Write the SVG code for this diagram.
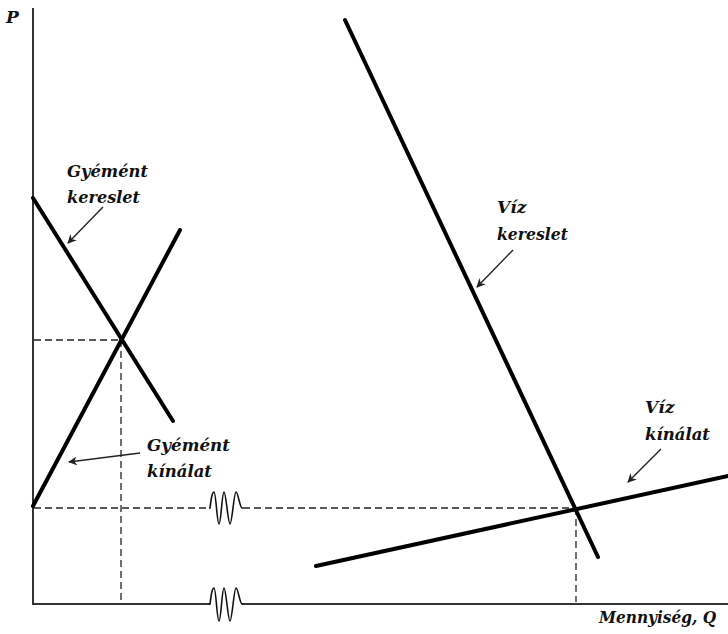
<svg xmlns="http://www.w3.org/2000/svg" width="728" height="634" viewBox="0 0 728 634">
<style>
.axis{stroke:#333;stroke-width:2;fill:none}
.curve{stroke:#000;stroke-width:4;fill:none;stroke-linecap:round}
.dash{stroke:#222;stroke-width:1.3;fill:none;stroke-dasharray:7,4}
.sq{stroke:#111;stroke-width:1.6;fill:none}
.ptr{stroke:#222;stroke-width:1.4;fill:none;marker-end:url(#ah)}
.lbl{font-family:"DejaVu Serif","Liberation Serif",serif;font-style:italic;font-weight:bold;font-size:17px;fill:#111}
</style>
<defs>
<marker id="ah" viewBox="0 0 10 10" refX="9" refY="5" markerWidth="9" markerHeight="9" markerUnits="userSpaceOnUse" orient="auto">
<path d="M0,0 L10,5 L0,10 L3,5 Z" fill="#222"/>
</marker>
</defs>
<rect width="728" height="634" fill="#fff"/>
<g id="axes">
<line class="axis" x1="33" y1="8" x2="33" y2="605"/>
<path class="axis" d="M32,604 H210 M242,604 H728"/>
<path class="sq" d="M209,604 H210 C211,596 212,588 214,588 C216,588 217,621 219,621 C221,621 222,588 224,588 C226,588 228,621 230,621 C232,621 234,588 236,588 C238,588 240,604 242,604 H243"/>
<text class="lbl" x="6" y="23" font-size="18">P</text>
<text class="lbl" x="599" y="623" font-size="16" textLength="117" lengthAdjust="spacingAndGlyphs">Mennyiség, Q</text>
</g>
<g id="connectors">
<line class="dash" x1="34" y1="340" x2="121" y2="340"/>
<line class="dash" x1="121" y1="340" x2="121" y2="602"/>
<path class="dash" d="M34,508 H209 M243,508 H576"/>
<path class="sq" d="M209,508 H210 C211,500 212,492 214,492 C216,492 217,524 219,524 C221,524 222,492 224,492 C226,492 228,524 230,524 C232,524 234,492 236,492 C238,492 240,508 242,508 H243"/>
<line class="dash" x1="576" y1="508" x2="576" y2="602"/>
<line class="ptr" x1="103" y1="207" x2="68" y2="243"/>
<line class="ptr" x1="140" y1="453" x2="69" y2="462"/>
<line class="ptr" x1="513" y1="250" x2="477" y2="287"/>
<line class="ptr" x1="661" y1="449" x2="628" y2="482"/>
</g>
<g id="diamond-demand">
<line class="curve" x1="33" y1="198" x2="173" y2="421"/>
<text class="lbl" x="67" y="177" textLength="81" lengthAdjust="spacingAndGlyphs">Gyémént</text>
<text class="lbl" x="67" y="203" textLength="73" lengthAdjust="spacingAndGlyphs">kereslet</text>
</g>
<g id="diamond-supply">
<line class="curve" x1="33" y1="506" x2="180" y2="230"/>
<text class="lbl" x="147" y="451" textLength="83" lengthAdjust="spacingAndGlyphs">Gyémént</text>
<text class="lbl" x="147" y="477" textLength="65" lengthAdjust="spacingAndGlyphs">kínálat</text>
</g>
<g id="water-demand">
<line class="curve" x1="345" y1="20" x2="598" y2="557"/>
<text class="lbl" x="497" y="213">Víz</text>
<text class="lbl" x="497" y="240" textLength="71" lengthAdjust="spacingAndGlyphs">kereslet</text>
</g>
<g id="water-supply">
<line class="curve" x1="316" y1="566" x2="728" y2="476"/>
<text class="lbl" x="645" y="413">Víz</text>
<text class="lbl" x="645" y="440" textLength="65" lengthAdjust="spacingAndGlyphs">kínálat</text>
</g>
</svg>
